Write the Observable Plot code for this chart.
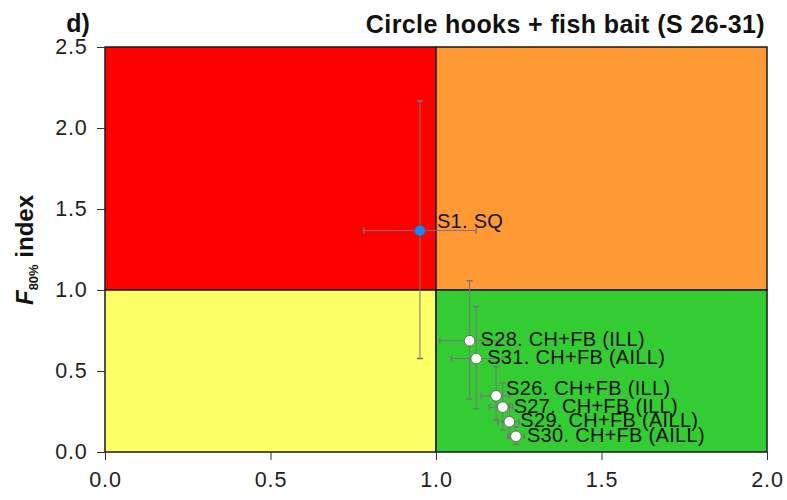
<!DOCTYPE html>
<html>
<head>
<meta charset="utf-8">
<script src="https://cdn.jsdelivr.net/npm/d3@7"></script>
<script src="https://cdn.jsdelivr.net/npm/@observablehq/plot@0.6"></script>
<style>
  body { margin: 0; background: #fff; }
  #chart { width: 787px; height: 500px; }
  #chart g[aria-label="y-axis tick label"] text,
  #chart g[aria-label="x-axis tick label"] text { letter-spacing: 0.8px; }
  #chart g[aria-label="text"] text { letter-spacing: 0.3px; }
</style>
</head>
<body>
<div id="chart"></div>
<script>
// Scenario estimates with their uncertainty ranges
const scenarios = ["S1. SQ", "S28. CH+FB (ILL)", "S31. CH+FB (AILL)", "S26. CH+FB (ILL)", "S27. CH+FB (ILL)", "S29. CH+FB (AILL)", "S30. CH+FB (AILL)"];
const xIndex = [0.95, 1.10, 1.12, 1.18, 1.20, 1.22, 1.24];
const xLow   = [0.78, 1.01, 1.045, 1.135, 1.16, 1.185, 1.215];
const xHigh  = [1.12, 1.19, 1.20, 1.22, 1.23, 1.25, 1.265];
const fIndex = [1.37, 0.69, 0.58, 0.35, 0.28, 0.19, 0.10];
const fLow   = [0.58, 0.33, 0.27, 0.20, 0.14, 0.09, 0.05];
const fHigh  = [2.17, 1.06, 0.90, 0.53, 0.43, 0.30, 0.16];
const statusQuo = ["S1. SQ"];

// Reference points splitting the plane into four status zones
const xRef = 1, fRef = 1;
const xMax = 2, fMax = 2.5;
const zoneColors = ["#ff0000", "#ff9933", "#ffff66", "#33cc33"];
const xTicks = [0, 0.5, 1, 1.5, 2];
const yTicks = [0, 0.5, 1, 1.5, 2, 2.5];

const panelTag = "d)";
const panelTitle = "Circle hooks + fish bait (S 26-31)";

const points = scenarios.map((name, i) => ({
  name, x: xIndex[i], xLo: xLow[i], xHi: xHigh[i], y: fIndex[i], yLo: fLow[i], yHi: fHigh[i],
  sq: statusQuo.includes(name)
}));

const zones = [
  {x1: 0, x2: xRef, y1: fRef, y2: fMax, color: zoneColors[0]},
  {x1: xRef, x2: xMax, y1: fRef, y2: fMax, color: zoneColors[1]},
  {x1: 0, x2: xRef, y1: 0, y2: fRef, color: zoneColors[2]},
  {x1: xRef, x2: xMax, y1: 0, y2: fRef, color: zoneColors[3]}
];

// Whisker caps drawn as short line symbols
const capH = {draw(ctx, size) { const r = Math.sqrt(size / Math.PI); ctx.moveTo(-r, 0); ctx.lineTo(r, 0); }};
const capV = {draw(ctx, size) { const r = Math.sqrt(size / Math.PI); ctx.moveTo(0, -r); ctx.lineTo(0, r); }};
const barColor = "#777";
const labelSize = 20;

const plot = Plot.plot({
  width: 787,
  height: 500,
  marginLeft: 105,
  marginRight: 20,
  marginTop: 47,
  marginBottom: 48,
  style: {fontFamily: "'Liberation Sans', Arial, sans-serif", fontSize: "21.5px", color: "#222", background: "transparent", overflow: "visible"},
  x: {domain: [0, xMax]},
  y: {domain: [0, fMax]},
  color: {type: "identity"},
  marks: [
    Plot.rect(zones, {x1: "x1", x2: "x2", y1: "y1", y2: "y2", fill: "color", stroke: "#1a1a1a", strokeWidth: 1.5}),
    Plot.axisX({ticks: xTicks, tickFormat: d3.format(".1f"), tickSize: 8, tickPadding: 11, label: null, stroke: "#333"}),
    Plot.axisY({ticks: yTicks, tickFormat: d3.format(".1f"), tickSize: 8, tickPadding: 10, label: null, stroke: "#333"}),
    // error bars
    Plot.link(points, {x1: "xLo", x2: "xHi", y1: "y", y2: "y", stroke: barColor, strokeWidth: 1}),
    Plot.link(points, {x1: "x", x2: "x", y1: "yLo", y2: "yHi", stroke: barColor, strokeWidth: 1}),
    Plot.dot(points, {x: "xLo", y: "y", symbol: capV, r: 3, stroke: barColor, fill: "none"}),
    Plot.dot(points, {x: "xHi", y: "y", symbol: capV, r: 3, stroke: barColor, fill: "none"}),
    Plot.dot(points, {x: "x", y: "yLo", symbol: capH, r: 3, stroke: barColor, fill: "none"}),
    Plot.dot(points, {x: "x", y: "yHi", symbol: capH, r: 3, stroke: barColor, fill: "none"}),
    // estimates
    Plot.dot(points, {x: "x", y: "y", r: 5.3, fill: d => d.sq ? "#1a86ff" : "#ffffff", stroke: "#555", strokeWidth: 0.8}),
    // scenario labels
    Plot.text(points.filter(d => d.sq), {x: "x", y: "y", text: "name", textAnchor: "start", dx: 17, dy: -9, fill: "#111", fontSize: labelSize}),
    Plot.text(points.filter(d => d.name.startsWith("S26")), {x: "x", y: "y", text: "name", textAnchor: "start", dx: 10, dy: -7, fill: "#111", fontSize: labelSize}),
    Plot.text(points.filter(d => !d.sq && !d.name.startsWith("S26")), {x: "x", y: "y", text: "name", textAnchor: "start", dx: 11, dy: -1, fill: "#111", fontSize: labelSize})
  ]
});

document.getElementById("chart").appendChild(plot);

const svg = d3.select(plot);

// Panel tag and title above the plot
svg.append("text")
  .attr("x", 78).attr("y", 32)
  .attr("font-weight", "bold").attr("font-size", 25).attr("fill", "#111")
  .text(panelTag);
svg.append("text")
  .attr("x", 765).attr("y", 33)
  .attr("text-anchor", "end")
  .attr("font-weight", "bold").attr("font-size", 25).attr("letter-spacing", 0.4).attr("fill", "#111")
  .text(panelTitle);

// Y-axis title with italic F and subscript
const yTitle = svg.append("text")
  .attr("transform", "translate(33,250) rotate(-90)")
  .attr("text-anchor", "middle")
  .attr("font-weight", "bold")
  .attr("font-size", 24)
  .attr("fill", "#111");
yTitle.append("tspan").attr("font-style", "italic").text("F");
yTitle.append("tspan").attr("font-size", 13).attr("dy", 5).text("80%");
yTitle.append("tspan").attr("dy", -5).text(" index");
</script>
</body>
</html>
